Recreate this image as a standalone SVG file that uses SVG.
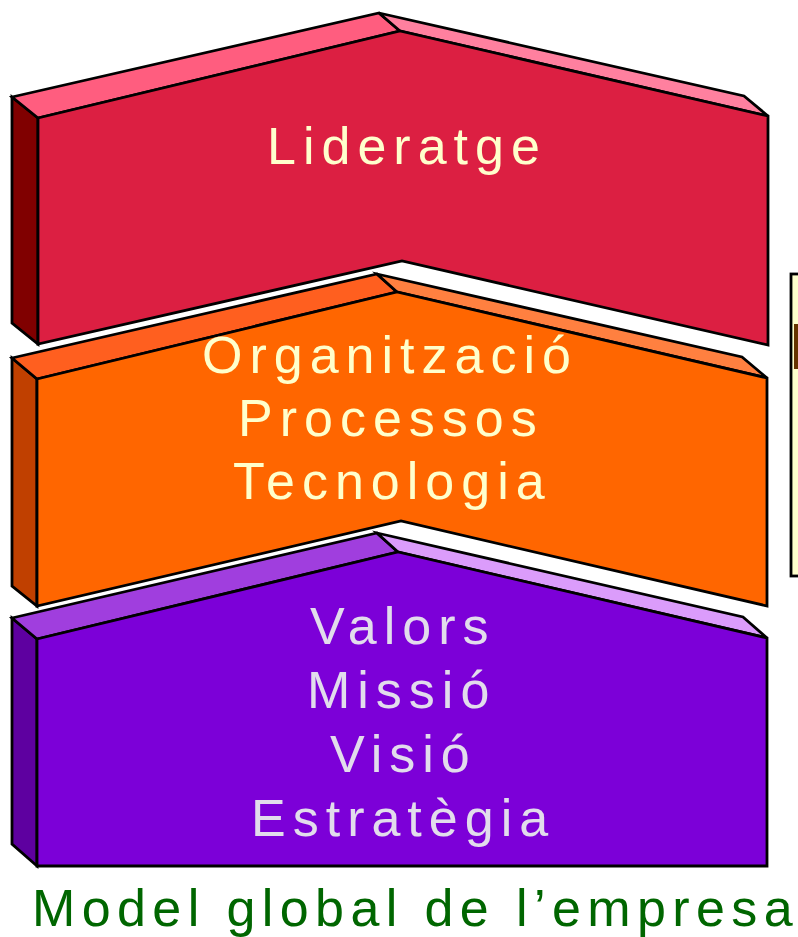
<svg xmlns="http://www.w3.org/2000/svg" width="798" height="937" viewBox="0 0 798 937">
<style>
  .s { stroke: #000; stroke-width: 2.8; stroke-linejoin: miter; }
  .t { font-family: "Liberation Sans", Arial, sans-serif; font-size: 52px; letter-spacing: 7px; }
  .cream { fill: #FFFFCC; }
  .lav { fill: #E2DCEC; }
</style>
<rect width="798" height="937" fill="#FFFFFF"/>

<g id="side-panel">
  <rect x="791" y="274" width="20" height="302" fill="#FFFFCC" class="s"/>
  <rect x="794" y="324" width="10" height="45" fill="#663300"/>
</g>

<g id="valors">
  <polygon class="s" fill="#5E00A0" points="12,618 37,639 37,866 12,844"/>
  <polygon class="s" fill="#A03EDE" points="12,618 377,533 398,552 37,639"/>
  <polygon class="s" fill="#DB9CFB" points="377,533 743,617 767,638 398,552"/>
  <polygon class="s" fill="#7C00D8" points="37,639 398,552 767,638 767,866 37,866"/>
  <text class="t lav" x="310" y="644">Valors</text>
  <text class="t lav" x="307" y="708">Missió</text>
  <text class="t lav" x="330" y="772">Visió</text>
  <text class="t lav" x="251" y="836">Estratègia</text>
</g>

<g id="organitzacio">
  <polygon class="s" fill="#C04000" points="12,358 37,379 37,606 12,586"/>
  <polygon class="s" fill="#FF5F1F" points="12,358 377,274 397,292 37,379"/>
  <polygon class="s" fill="#FF8040" points="377,274 742,357 767,378 397,292"/>
  <polygon class="s" fill="#FF6600" points="37,379 397,292 767,378 767,606 401,521 37,606"/>
  <text class="t cream" x="202" y="373">Organització</text>
  <text class="t cream" x="238" y="436">Processos</text>
  <text class="t cream" x="233" y="499">Tecnologia</text>
</g>

<g id="lideratge">
  <polygon class="s" fill="#800000" points="12,97 38,118 38,344 12,323"/>
  <polygon class="s" fill="#FF5D7F" points="12,97 379,13 400,31 38,118"/>
  <polygon class="s" fill="#FF809F" points="379,13 744,96 768,116 400,31"/>
  <polygon class="s" fill="#DC1F42" points="38,118 400,31 768,116 768,345 402,261 38,344"/>
  <text class="t cream" x="267" y="164">Lideratge</text>
</g>

<g id="connectors"></g>

<g id="caption">
  <text x="32" y="926" font-family="Liberation Sans, Arial, sans-serif" font-size="52" letter-spacing="6.4" fill="#006600">Model global de l’empresa</text>
</g>
</svg>
